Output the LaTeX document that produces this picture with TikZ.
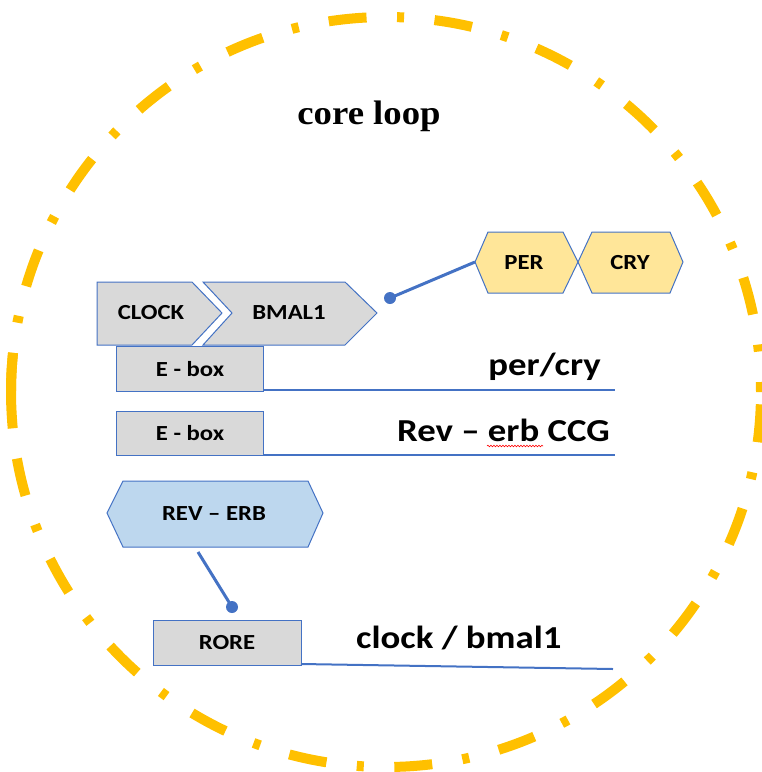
\documentclass[tikz,border=0pt]{standalone}
\usepackage{fontspec}
\usetikzlibrary{decorations.pathmorphing}
\newfontfamily\calfont[FakeStretch=1.15]{Carlito}
\newfontfamily\tmsfont[FakeStretch=1.08]{Liberation Serif}
\definecolor{ring}{RGB}{255,192,0}
\definecolor{edge}{RGB}{68,114,196}
\definecolor{grayfill}{RGB}{217,217,217}
\definecolor{yellowfill}{RGB}{255,230,153}
\definecolor{bluefill}{RGB}{189,215,238}
\tikzset{
  shapebox/.style={draw=edge, line width=1pt},
  boxlabel/.style={font=\calfont\bfseries\fontsize{21.5}{25}\selectfont, inner sep=0pt},
  biglabel/.style={font=\calfont\bfseries\fontsize{32}{36}\selectfont, inner sep=0pt},
  baseline/.style={draw=edge, line width=2pt},
  connector/.style={draw=edge, line width=3pt},
  dotend/.style={fill=edge, draw=none}
}
\begin{document}
\begin{tikzpicture}[x=1pt,y=-1pt]
\useasboundingbox (0,0) rectangle (762,772);
% dashed ring
\coordinate (ringc) at (386,392);
\draw[ring, line width=10pt, dash pattern=on 38pt off 30.55pt on 7pt off 30.55pt, dash phase=28pt]
  (ringc) circle[radius=375pt];
\draw[ring, line width=10pt] ([shift={(174:375pt)}]ringc) arc[start angle=174, end angle=184.6, radius=375pt];
% title
\node[font=\tmsfont\bfseries\fontsize{34}{38}\selectfont, inner sep=0pt] (title) at (369,116) {core loop};
% CLOCK and BMAL1
\draw[shapebox, fill=grayfill] (97,282) -- (192,282) -- (222,313) -- (192,345) -- (97,345) -- cycle;
\node[boxlabel] (clock) at (151,313) {CLOCK};
\draw[shapebox, fill=grayfill] (203,282) -- (345,282) -- (377,313) -- (345,345) -- (203,345) -- (232,313) -- cycle;
\node[boxlabel] (bmal) at (289,313) {BMAL1};
% PER and CRY
\draw[shapebox, fill=yellowfill] (475,262) -- (488,232) -- (563,232) -- (578,262) -- (563,293) -- (488,293) -- cycle;
\node[boxlabel] (per) at (524,263) {PER};
\coordinate (perL) at (475,262);
\draw[shapebox, fill=yellowfill] (578,262) -- (592,232) -- (670,232) -- (683,262) -- (670,293) -- (592,293) -- cycle;
\node[boxlabel] (cry) at (630,263) {CRY};
% connector PER -> dot
\coordinate (dotA) at (390,298);
\draw[connector] (perL) -- (dotA);
\fill[dotend] (dotA) circle[radius=6pt];
% E-box 1
\draw[shapebox, fill=grayfill] (116,346) rectangle (263,391);
\node[boxlabel] (ebox1) at (190,369) {E - box};
\coordinate (e1a) at (263,390);
\coordinate (e1b) at (615,390);
\draw[baseline] (e1a) -- (e1b);
\node[biglabel, anchor=base east] (percry) at (601,375) {per/cry};
% E-box 2
\draw[shapebox, fill=grayfill] (116,411) rectangle (263,455);
\node[boxlabel] (ebox2) at (190,433) {E - box};
\coordinate (e2a) at (263,455);
\coordinate (e2b) at (615,455);
\draw[baseline] (e2a) -- (e2b);
\node[biglabel, anchor=base east] (reverb) at (610,441) {Rev – erb CCG};
\draw[red, line width=0.6pt, decorate, decoration={snake, amplitude=0.8pt, segment length=3pt}] (487,446) -- (543,446);
% REV-ERB
\draw[shapebox, fill=bluefill] (107,513) -- (123,481) -- (308,481) -- (323,513) -- (308,547) -- (123,547) -- cycle;
\node[boxlabel] (reverbp) at (214,514) {REV – ERB};
\coordinate (revB) at (198,552);
\coordinate (dotB) at (232,607);
\draw[connector] (revB) -- (dotB);
\fill[dotend] (dotB) circle[radius=6pt];
% RORE
\draw[shapebox, fill=grayfill] (153,620) rectangle (301,665);
\node[boxlabel] (rore) at (227,643) {RORE};
\coordinate (r1a) at (301,664);
\coordinate (r1b) at (613,669);
\draw[baseline] (r1a) -- (r1b);
\node[biglabel, anchor=base west] (clockbmal) at (356,648) {clock / bmal1};
\end{tikzpicture}
\end{document}
